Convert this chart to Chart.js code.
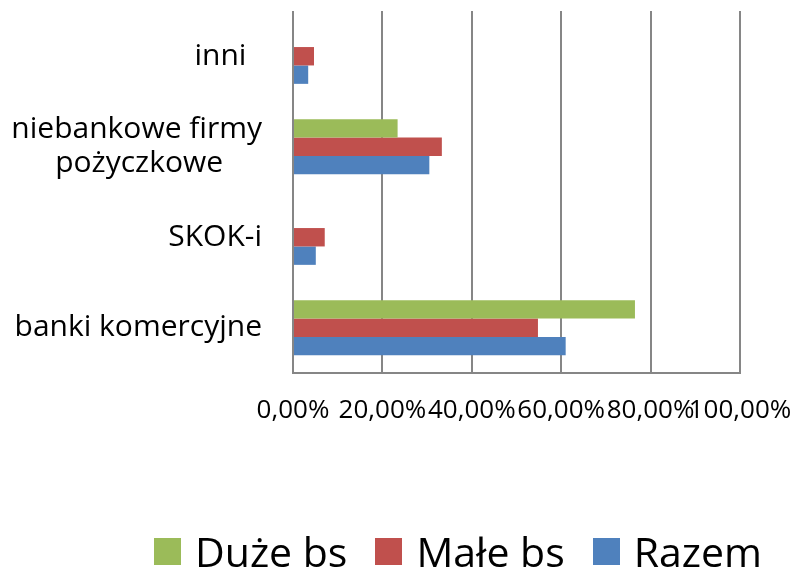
<!DOCTYPE html>
<html>
<head>
<meta charset="utf-8">
<script src="https://cdn.jsdelivr.net/npm/chart.js@4.4.1/dist/chart.umd.min.js"></script>
<style>
  html, body { margin: 0; padding: 0; background: #fff; }
  #wrap { position: relative; width: 798px; height: 577px; }
  #legend {
    position: absolute; left: 154px; top: 525px; height: 52px;
    display: flex; align-items: center;
    font-family: "Open Sans", sans-serif; font-size: 41px; color: #000;
    white-space: nowrap;
  }
  #legend .item { display: flex; align-items: center; margin-right: 28px; }
  #legend .box { width: 27px; height: 27px; margin-right: 14px; }
</style>
</head>
<body>
<div id="wrap">
  <canvas id="chart" width="798" height="577"></canvas>
  <div id="legend"></div>
</div>
<script>
// categories, top to bottom as drawn
let categories = ['inni  ', ['niebankowe firmy', 'pożyczkowe     '], 'SKOK-i', 'banki komercyjne'];

// series values in %
let seriesNames = ['Duże bs', 'Małe bs', 'Razem'];
let duzeBs = [null, 23.4, null, 76.5];
let maleBs = [4.7, 33.3, 7.1, 54.8];
let razem = [3.4, 30.5, 5.1, 61.0];
let seriesColors = ['#9BBB59', '#C0504D', '#4F81BD'];

let tickLabels = ['0,00%', '20,00%', '40,00%', '60,00%', '80,00%', '100,00%'];

const FONT = '"Open Sans", sans-serif';
const GRID = '#868686';

const ctx = document.getElementById('chart').getContext('2d');

let chart = new Chart(ctx, {
    type: 'bar',
    data: {
        labels: categories,
        datasets: [
            { label: seriesNames[0], data: duzeBs, backgroundColor: seriesColors[0] },
            { label: seriesNames[1], data: maleBs, backgroundColor: seriesColors[1] },
            { label: seriesNames[2], data: razem, backgroundColor: seriesColors[2] }
        ]
    },
    options: {
        indexAxis: 'y',
        responsive: false,
        animation: false,
        categoryPercentage: 0.61,
        barPercentage: 1,
        layout: {
            padding: { top: 11, right: 58, left: 0, bottom: 0 }
        },
        scales: {
            x: {
                min: 0,
                max: 100,
                ticks: {
                    stepSize: 20,
                    autoSkip: false,
                    maxRotation: 0,
                    minRotation: 0,
                    padding: 22,
                    color: '#000',
                    font: { family: FONT, size: 26 },
                    callback: (v, i) => tickLabels[i]
                },
                grid: { color: GRID, lineWidth: 2, drawTicks: false },
                border: { display: true, color: GRID, width: 2 },
                afterFit: (scale) => {
                    scale.height = 204;
                    scale.paddingLeft = 0;
                    scale.paddingRight = 0;
                }
            },
            y: {
                ticks: {
                    padding: 31,
                    color: '#000',
                    font: { family: FONT, size: 30, lineHeight: 1.12 }
                },
                grid: { display: false, drawTicks: false },
                border: { display: false },
                afterFit: (scale) => {
                    scale.width = 293;
                    scale.paddingTop = 0;
                    scale.paddingBottom = 0;
                }
            }
        },
        plugins: {
            legend: { display: false },
            tooltip: { enabled: false }
        }
    }
});

// legend as html
let legendDiv = document.getElementById('legend');
seriesNames.forEach((name, i) => {
    let item = document.createElement('div');
    item.className = 'item';
    item.innerHTML = `<span class="box" style="background:${seriesColors[i]}"></span><span>${name}</span>`;
    legendDiv.appendChild(item);
});
</script>
</body>
</html>
